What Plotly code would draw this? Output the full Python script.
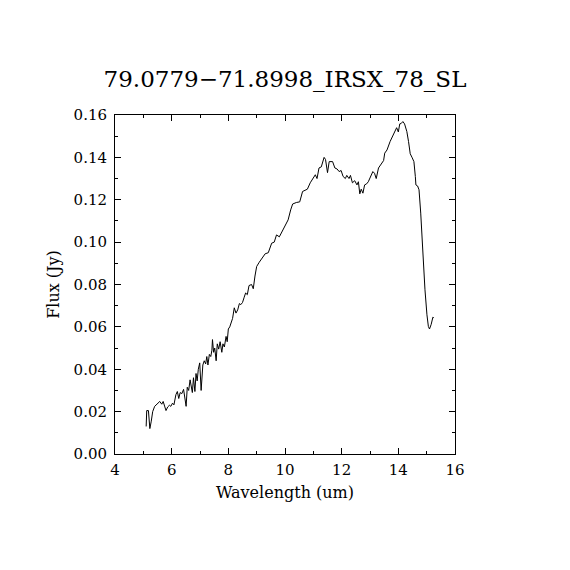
import plotly.graph_objects as go

# spectrum
wavelength = [
    5.10, 5.12, 5.18, 5.23, 5.28, 5.33, 5.40, 5.50, 5.58, 5.65, 5.70, 5.76, 5.80, 5.86,
    5.92, 5.97, 6.03, 6.08, 6.15, 6.20, 6.25, 6.30, 6.36, 6.42, 6.47, 6.51, 6.55, 6.60,
    6.65, 6.70, 6.73, 6.77, 6.82, 6.86, 6.90, 6.94, 6.99, 7.04, 7.10, 7.15, 7.20, 7.24,
    7.28, 7.33, 7.38, 7.42, 7.44, 7.48, 7.52, 7.57, 7.61, 7.66, 7.71, 7.77, 7.81, 7.86,
    7.92, 7.96, 8.00, 8.05, 8.10, 8.15, 8.21, 8.27, 8.33, 8.39, 8.44, 8.50, 8.56, 8.61,
    8.67, 8.73, 8.82, 8.88, 8.94, 9.00, 9.09, 9.18, 9.23, 9.30, 9.41, 9.53, 9.62, 9.70,
    9.80, 9.90, 10.00, 10.11, 10.20, 10.27, 10.40, 10.52, 10.62, 10.70, 10.79, 10.89,
    10.97, 11.07, 11.13, 11.20, 11.28, 11.38, 11.43, 11.50, 11.56, 11.68, 11.76, 11.84,
    11.91, 11.98, 12.05, 12.13, 12.18, 12.26, 12.31, 12.38, 12.46, 12.54, 12.59, 12.64,
    12.69, 12.75, 12.81, 12.88, 12.94, 13.01, 13.10, 13.16, 13.22, 13.30, 13.40, 13.48,
    13.52, 13.60, 13.71, 13.79, 13.88, 13.94, 14.00, 14.05, 14.10, 14.16, 14.22, 14.30,
    14.36, 14.42, 14.49, 14.55, 14.60, 14.62, 14.68, 14.73, 14.79, 14.87, 14.94, 15.01,
    15.06, 15.10, 15.16, 15.22, 15.25,
]
flux = [
    0.0130, 0.0205, 0.0205, 0.0120, 0.0155, 0.0200, 0.0225, 0.0238, 0.0248, 0.0235,
    0.0248, 0.0222, 0.0205, 0.0222, 0.0230, 0.0225, 0.0240, 0.0232, 0.0280, 0.0295,
    0.0262, 0.0290, 0.0285, 0.0305, 0.0270, 0.0225, 0.0315, 0.0300, 0.0350, 0.0310,
    0.0290, 0.0360, 0.0295, 0.0380, 0.0345, 0.0400, 0.0430, 0.0300, 0.0420, 0.0440,
    0.0425, 0.0460, 0.0420, 0.0470, 0.0460, 0.0490, 0.0540, 0.0480, 0.0500, 0.0440,
    0.0520, 0.0495, 0.0530, 0.0480, 0.0520, 0.0505, 0.0555, 0.0530, 0.0590, 0.0600,
    0.0620, 0.0640, 0.0690, 0.0665, 0.0680, 0.0710, 0.0705, 0.0715, 0.0740, 0.0760,
    0.0752, 0.0795, 0.0800, 0.0780, 0.0840, 0.0885, 0.0905, 0.0920, 0.0932, 0.0945,
    0.0950, 0.0995, 0.1000, 0.1034, 0.1025, 0.1050, 0.1074, 0.1105, 0.1152, 0.1180,
    0.1187, 0.1190, 0.1239, 0.1245, 0.1250, 0.1280, 0.1300, 0.1318, 0.1300, 0.1350,
    0.1355, 0.1400, 0.1390, 0.1328, 0.1380, 0.1380, 0.1350, 0.1345, 0.1333, 0.1338,
    0.1310, 0.1300, 0.1315, 0.1300, 0.1315, 0.1280, 0.1290, 0.1270, 0.1285, 0.1228,
    0.1250, 0.1231, 0.1270, 0.1275, 0.1285, 0.1307, 0.1333, 0.1325, 0.1300, 0.1350,
    0.1370, 0.1385, 0.1420, 0.1435, 0.1475, 0.1500, 0.1527, 0.1540, 0.1520, 0.1558,
    0.1560, 0.1569, 0.1558, 0.1522, 0.1475, 0.1417, 0.1398, 0.1380, 0.1310, 0.1270,
    0.1265, 0.1247, 0.1137, 0.0917, 0.0775, 0.0657, 0.0602, 0.0590, 0.0612, 0.0646,
    0.0643,
]

title_text = "79.0779\u221271.8998_IRSX_78_SL"
x_ticks = [4, 6, 8, 10, 12, 14, 16]
y_ticks = [0.00, 0.02, 0.04, 0.06, 0.08, 0.10, 0.12, 0.14, 0.16]

serif = "DejaVu Serif"

fig = go.Figure()
fig.add_trace(go.Scatter(x=wavelength, y=flux, mode="lines",
                         line=dict(color="black", width=1), showlegend=False))

axis_common = dict(
    showline=True, linecolor="black", linewidth=1, mirror="allticks",
    ticks="inside", ticklen=6, tickwidth=1, tickcolor="black",
    showgrid=False, zeroline=False,
    tickfont=dict(family=serif, size=15, color="black"),
)

fig.update_xaxes(range=[4, 16], tickvals=x_ticks, ticklabelstandoff=2,
                 minor=dict(dtick=1, ticks="inside", ticklen=3, tickcolor="black"),
                 title=dict(text="Wavelength (um)", standoff=8,
                            font=dict(family=serif, size=16, color="black")),
                 **axis_common)
fig.update_yaxes(range=[0, 0.16], tickvals=y_ticks, tickformat=".2f",
                 ticklabelstandoff=4,
                 minor=dict(dtick=0.01, ticks="inside", ticklen=3, tickcolor="black"),
                 title=dict(text="Flux (Jy)", standoff=9,
                            font=dict(family=serif, size=16, color="black")),
                 **axis_common)

fig.update_layout(
    width=570, height=570,
    margin=dict(l=107, r=123, t=107, b=124),
    plot_bgcolor="white", paper_bgcolor="white",
    title=dict(text=title_text, x=277 / 570, xanchor="center", y=1 - 71 / 570, yanchor="middle",
               font=dict(family=serif, size=23, color="black")),
)

fig.write_html("out.html")
